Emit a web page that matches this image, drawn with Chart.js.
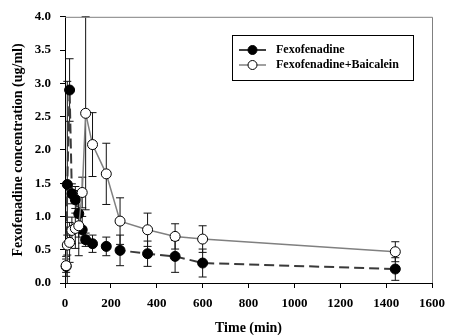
<html>
<head>
    <title>Fexofenadine concentration</title>
    <script src="https://cdn.jsdelivr.net/npm/chart.js@4.4.0/dist/chart.umd.min.js"></script>
    <style>
        body { margin: 0; background: #fff; }
        #wrap { width: 453px; height: 335px; }
    </style>
</head>
<body>
    <div id="wrap"><canvas id="pk-chart" width="453" height="335"></canvas></div>

    <script>
        // sampling times (min)
        const times = [5, 10, 20, 30, 45, 60, 75, 90, 120, 180, 240, 360, 480, 600, 1440];
        // Fexofenadine alone (mean, SD)
        const fexo    = [0.25, 1.48, 2.90, 1.34, 1.25, 1.04, 0.80, 0.65, 0.59, 0.55, 0.49, 0.44, 0.40, 0.30, 0.21];
        const fexoErr = [0.15, 1.55, 0.47, 0.15, 0.20, 0.35, 0.20, 0.10, 0.13, 0.14, 0.23, 0.19, 0.24, 0.21, 0.17];
        // Fexofenadine + Baicalein (mean, SD)
        const fexoBai    = [0.26, 0.57, 0.61, 0.79, 0.82, 0.86, 1.36, 2.55, 2.08, 1.64, 0.93, 0.80, 0.70, 0.66, 0.47];
        const fexoBaiErr = [0.10, 0.15, 0.30, 0.20, 0.30, 0.45, 0.23, 1.45, 0.48, 0.46, 0.35, 0.25, 0.19, 0.20, 0.15];

        const labels = ['Fexofenadine', 'Fexofenadine+Baicalein'];
        const xTickMax = 1600;
        const yTickMax = 4.0;

        const serif = "'Liberation Serif', 'Times New Roman', serif";

        const toPoints = (ys) => times.map((t, i) => ({ x: t, y: ys[i] }));

        // draws the SD bars through the chart scales, under the markers
        const errorBars = {
            id: 'errorBars',
            beforeDatasetsDraw(chart) {
                const ctx = chart.ctx;
                const xs = chart.scales.x, ys = chart.scales.y;
                const area = chart.chartArea;
                ctx.save();
                ctx.strokeStyle = '#111';
                ctx.lineWidth = 1;
                chart.data.datasets.forEach(ds => {
                    ds.data.forEach((p, i) => {
                        const e = ds.errors[i];
                        const px = xs.getPixelForValue(p.x);
                        const top = Math.max(ys.getPixelForValue(p.y + e), area.top);
                        const bot = Math.min(ys.getPixelForValue(p.y - e), area.bottom);
                        ctx.beginPath();
                        ctx.moveTo(px, top); ctx.lineTo(px, bot);
                        ctx.moveTo(px - 4, top); ctx.lineTo(px + 4, top);
                        if (bot < area.bottom) { ctx.moveTo(px - 4, bot); ctx.lineTo(px + 4, bot); }
                        ctx.stroke();
                    });
                });
                ctx.restore();
            },
            afterDraw(chart) {
                const ctx = chart.ctx;
                const a = chart.chartArea;
                ctx.save();
                // top and right frame
                ctx.strokeStyle = '#808080';
                ctx.lineWidth = 1;
                ctx.beginPath();
                ctx.moveTo(a.left, a.top + 0.5); ctx.lineTo(a.right + 0.5, a.top + 0.5);
                ctx.lineTo(a.right + 0.5, a.bottom);
                ctx.stroke();

                // legend box
                const bx = 232, by = 35, bw = 181, bh = 45;
                ctx.strokeStyle = '#000';
                ctx.strokeRect(bx + 0.5, by + 0.5, bw, bh);
                ctx.font = 'bold 12px ' + serif;
                ctx.textBaseline = 'middle';
                ctx.fillStyle = '#000';
                const rows = [
                    { y: 50, line: '#000', fill: '#000', text: labels[0] },
                    { y: 65, line: '#808080', fill: '#fff', text: labels[1] }
                ];
                rows.forEach(r => {
                    ctx.strokeStyle = r.line;
                    ctx.lineWidth = 1.5;
                    ctx.beginPath();
                    ctx.moveTo(239, r.y); ctx.lineTo(266, r.y);
                    ctx.stroke();
                    ctx.beginPath();
                    ctx.arc(252.5, r.y, 4.5, 0, Math.PI * 2);
                    ctx.fillStyle = r.fill;
                    ctx.fill();
                    ctx.strokeStyle = '#000';
                    ctx.lineWidth = 1;
                    ctx.stroke();
                    ctx.fillStyle = '#000';
                    ctx.fillText(r.text, 276, r.y);
                });
                ctx.restore();
            }
        };

        const ctx = document.getElementById('pk-chart').getContext('2d');
        new Chart(ctx, {
            type: 'line',
            data: {
                datasets: [
                    {
                        label: labels[0],
                        data: toPoints(fexo),
                        errors: fexoErr,
                        borderColor: '#3a3a3a',
                        borderWidth: 2,
                        borderDash: [10, 5],
                        pointRadius: 5,
                        pointBackgroundColor: '#000',
                        pointBorderColor: '#000',
                        pointBorderWidth: 1,
                        tension: 0,
                        clip: false,
                        order: 2
                    },
                    {
                        label: labels[1],
                        data: toPoints(fexoBai),
                        errors: fexoBaiErr,
                        borderColor: '#808080',
                        borderWidth: 1.5,
                        pointRadius: 5,
                        pointBackgroundColor: '#fff',
                        pointBorderColor: '#000',
                        pointBorderWidth: 1,
                        tension: 0,
                        clip: false,
                        order: 1
                    }
                ]
            },
            options: {
                responsive: false,
                animation: false,
                layout: { padding: { top: 16, right: 14, left: 0, bottom: 0 } },
                plugins: {
                    legend: { display: false },
                    tooltip: { enabled: false }
                },
                scales: {
                    x: {
                        type: 'linear',
                        min: 0,
                        max: xTickMax,
                        afterFit: (s) => { s.height = 52; },
                        ticks: {
                            stepSize: 200,
                            color: '#000',
                            padding: 8,
                            maxRotation: 0,
                            callback: (v) => String(v),
                            font: { family: serif, size: 13, weight: 'bold' }
                        },
                        grid: { drawOnChartArea: false, tickLength: 5, color: '#000' },
                        border: { color: '#000', width: 1 },
                        title: {
                            display: true,
                            text: 'Time (min)',
                            color: '#000',
                            padding: { top: 0, bottom: -1.5 },
                            font: { family: serif, size: 14, weight: 'bold' }
                        }
                    },
                    y: {
                        min: 0,
                        max: yTickMax,
                        afterFit: (s) => { s.width = 65; },
                        ticks: {
                            stepSize: 0.5,
                            color: '#000',
                            padding: 9,
                            callback: (v) => v.toFixed(1),
                            font: { family: serif, size: 13, weight: 'bold' }
                        },
                        grid: { drawOnChartArea: false, tickLength: 5, color: '#000' },
                        border: { color: '#000', width: 1 },
                        title: {
                            display: true,
                            text: 'Fexofenadine concentration (ug/ml)',
                            color: '#000',
                            padding: { top: 10, bottom: 0 },
                            font: { family: serif, size: 14, weight: 'bold' }
                        }
                    }
                }
            },
            plugins: [errorBars]
        });
    </script>
</body>
</html>
